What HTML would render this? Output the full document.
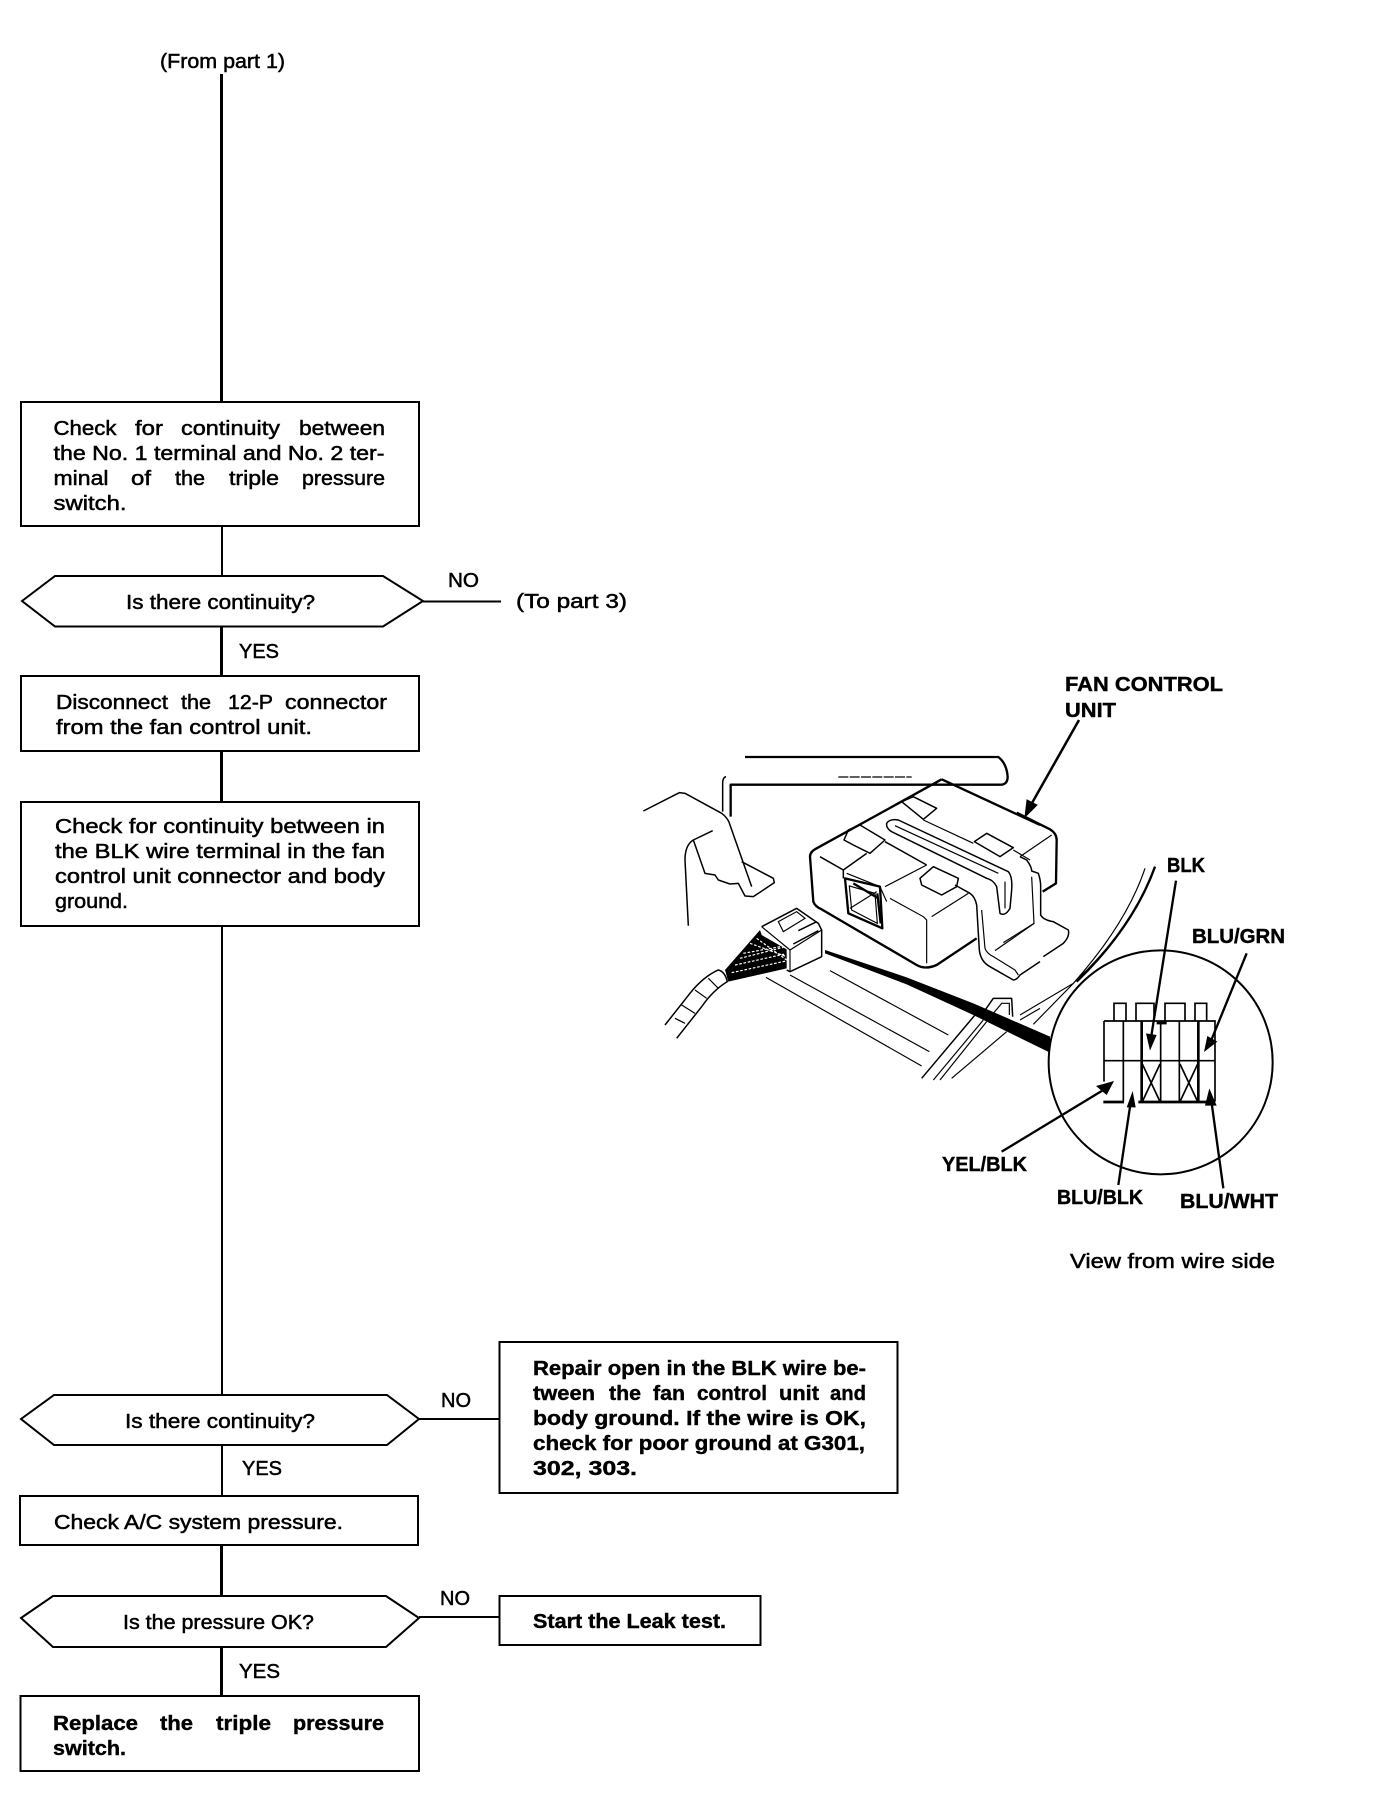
<!DOCTYPE html>
<html><head><meta charset="utf-8"><title>Diagram</title>
<style>
html,body{margin:0;padding:0;background:#fff;width:1376px;height:1804px;overflow:hidden}
svg{display:block}
text{font-family:"Liberation Sans",sans-serif;font-size:20px;fill:#000;stroke:#000;stroke-width:.5}
.b{font-weight:bold;stroke-width:.4}
.f{fill:none;stroke:#000;stroke-width:2}
.t{fill:none;stroke:#000;stroke-width:3}
.i{fill:none;stroke:#000;stroke-width:4.5;stroke-linejoin:round}
.h{fill:none;stroke:#000;stroke-width:7;stroke-linejoin:round}
.n{fill:none;stroke:#000;stroke-width:3.5}
</style></head><body>
<svg width="1376" height="1804" viewBox="0 0 1376 1804" xmlns="http://www.w3.org/2000/svg">
<rect width="1376" height="1804" fill="#fff"/>

<!-- flow connectors -->
<path class="t" d="M221.500 74V402"/>
<path class="f" d="M222 526V577"/>
<path class="t" d="M221.500 626V677"/>
<path class="t" d="M221.500 751V803"/>
<path class="f" d="M222 926V1396"/>
<path class="f" d="M222 1445V1496"/>
<path class="t" d="M221.500 1545V1596"/>
<path class="t" d="M221.500 1647V1696"/>
<path class="f" d="M423 601.500H501"/>
<path class="f" d="M419 1419H499"/>
<path class="f" d="M419 1617H499"/>

<!-- boxes -->
<rect class="f" x="21" y="402" width="398" height="124"/>
<rect class="f" x="21" y="676" width="398" height="75"/>
<rect class="f" x="21" y="802" width="398" height="124"/>
<rect class="f" x="20" y="1496" width="398" height="49"/>
<rect class="f" x="20.500" y="1696" width="398.500" height="75"/>
<rect class="f" x="499.500" y="1342" width="398" height="151"/>
<rect class="f" x="499.500" y="1596" width="261" height="49"/>

<!-- decisions -->
<path class="f" d="M22 601L55 576H383L423 601L383 626.500H55Z"/>
<path class="f" d="M21 1419L54 1395H387L419 1419L387 1445H54Z"/>
<path class="f" d="M21 1618L53 1596H386L419 1618L386 1647H53Z"/>

<!-- flow text -->
<text x="160" y="68" textLength="125" lengthAdjust="spacingAndGlyphs">(From part 1)</text>

<text x="53.500" y="435" textLength="63" lengthAdjust="spacingAndGlyphs">Check</text>
<text x="135" y="435" textLength="28" lengthAdjust="spacingAndGlyphs">for</text>
<text x="181" y="435" textLength="99" lengthAdjust="spacingAndGlyphs">continuity</text>
<text x="299" y="435" textLength="86" lengthAdjust="spacingAndGlyphs">between</text>
<text x="53.500" y="460" textLength="331" lengthAdjust="spacingAndGlyphs">the No. 1 terminal and No. 2 ter-</text>
<text x="53.500" y="485" textLength="55" lengthAdjust="spacingAndGlyphs">minal</text>
<text x="131" y="485" textLength="20" lengthAdjust="spacingAndGlyphs">of</text>
<text x="175" y="485" textLength="30" lengthAdjust="spacingAndGlyphs">the</text>
<text x="229" y="485" textLength="50" lengthAdjust="spacingAndGlyphs">triple</text>
<text x="302" y="485" textLength="83" lengthAdjust="spacingAndGlyphs">pressure</text>
<text x="53.500" y="510" textLength="73" lengthAdjust="spacingAndGlyphs">switch.</text>

<text x="126" y="609" textLength="189" lengthAdjust="spacingAndGlyphs">Is there continuity?</text>
<text x="448" y="587" textLength="31" lengthAdjust="spacingAndGlyphs">NO</text>
<text x="516" y="608" textLength="111" lengthAdjust="spacingAndGlyphs">(To part 3)</text>
<text x="239" y="658" textLength="40" lengthAdjust="spacingAndGlyphs">YES</text>

<text x="56" y="709" textLength="112" lengthAdjust="spacingAndGlyphs">Disconnect</text>
<text x="181" y="709" textLength="30" lengthAdjust="spacingAndGlyphs">the</text>
<text x="228" y="709" textLength="45" lengthAdjust="spacingAndGlyphs">12-P</text>
<text x="285" y="709" textLength="102" lengthAdjust="spacingAndGlyphs">connector</text>
<text x="56" y="734" textLength="256" lengthAdjust="spacingAndGlyphs">from the fan control unit.</text>

<text x="55" y="833" textLength="330" lengthAdjust="spacingAndGlyphs">Check for continuity between in</text>
<text x="55" y="858" textLength="330" lengthAdjust="spacingAndGlyphs">the BLK wire terminal in the fan</text>
<text x="55" y="883" textLength="330" lengthAdjust="spacingAndGlyphs">control unit connector and body</text>
<text x="55" y="908" textLength="73" lengthAdjust="spacingAndGlyphs">ground.</text>

<text x="125" y="1428" textLength="190" lengthAdjust="spacingAndGlyphs">Is there continuity?</text>
<text x="441" y="1407" textLength="30" lengthAdjust="spacingAndGlyphs">NO</text>
<text x="242" y="1475" textLength="40" lengthAdjust="spacingAndGlyphs">YES</text>
<text x="54" y="1529" textLength="289" lengthAdjust="spacingAndGlyphs">Check A/C system pressure.</text>
<text x="123" y="1629" textLength="191" lengthAdjust="spacingAndGlyphs">Is the pressure OK?</text>
<text x="440" y="1605" textLength="30" lengthAdjust="spacingAndGlyphs">NO</text>
<text x="239" y="1678" textLength="41" lengthAdjust="spacingAndGlyphs">YES</text>

<text class="b" x="533" y="1375" textLength="333" lengthAdjust="spacingAndGlyphs">Repair open in the BLK wire be-</text>
<text class="b" x="533" y="1400" textLength="62" lengthAdjust="spacingAndGlyphs">tween</text>
<text class="b" x="609" y="1400" textLength="32" lengthAdjust="spacingAndGlyphs">the</text>
<text class="b" x="653" y="1400" textLength="32" lengthAdjust="spacingAndGlyphs">fan</text>
<text class="b" x="697" y="1400" textLength="70" lengthAdjust="spacingAndGlyphs">control</text>
<text class="b" x="779" y="1400" textLength="40" lengthAdjust="spacingAndGlyphs">unit</text>
<text class="b" x="830" y="1400" textLength="36" lengthAdjust="spacingAndGlyphs">and</text>
<text class="b" x="533" y="1425" textLength="333" lengthAdjust="spacingAndGlyphs">body ground. If the wire is OK,</text>
<text class="b" x="533" y="1450" textLength="332" lengthAdjust="spacingAndGlyphs">check for poor ground at G301,</text>
<text class="b" x="533" y="1475" textLength="104" lengthAdjust="spacingAndGlyphs">302, 303.</text>
<text class="b" x="533" y="1628" textLength="193" lengthAdjust="spacingAndGlyphs">Start the Leak test.</text>

<text class="b" x="53" y="1730" textLength="85" lengthAdjust="spacingAndGlyphs">Replace</text>
<text class="b" x="160" y="1730" textLength="33" lengthAdjust="spacingAndGlyphs">the</text>
<text class="b" x="216" y="1730" textLength="55" lengthAdjust="spacingAndGlyphs">triple</text>
<text class="b" x="293" y="1730" textLength="91" lengthAdjust="spacingAndGlyphs">pressure</text>
<text class="b" x="53" y="1755" textLength="73" lengthAdjust="spacingAndGlyphs">switch.</text>

<!-- illustration labels -->
<text class="b" x="1065" y="691" textLength="158" lengthAdjust="spacingAndGlyphs">FAN CONTROL</text>
<text class="b" x="1065" y="717" textLength="51" lengthAdjust="spacingAndGlyphs">UNIT</text>
<text class="b" x="1167" y="872" textLength="38" lengthAdjust="spacingAndGlyphs">BLK</text>
<text class="b" x="1192" y="943" textLength="93" lengthAdjust="spacingAndGlyphs">BLU/GRN</text>
<text class="b" x="942" y="1171" textLength="85" lengthAdjust="spacingAndGlyphs">YEL/BLK</text>
<text class="b" x="1057" y="1204" textLength="86" lengthAdjust="spacingAndGlyphs">BLU/BLK</text>
<text class="b" x="1180" y="1208" textLength="98" lengthAdjust="spacingAndGlyphs">BLU/WHT</text>
<text x="1070" y="1268" textLength="205" lengthAdjust="spacingAndGlyphs">View from wire side</text>

<!-- illustration, traced in crop 2 coordinates -->
<g transform="translate(640,660) scale(.33333)">
<path class="h" d="M315 291H1075Q1100 310 1103 350Q1103 372 1085 374H272V470"/>
<path class="i" d="M258 350Q248 352 248 370V455"/>
<path class="n" stroke-dasharray="30 4" d="M595 351H815"/>
<path class="i" d="M10 453L118 398L135 400L245 460Q265 475 270 495L335 680"/>
<path class="i" d="M218 512L160 540Q135 555 135 600L145 797"/>
<path class="i" d="M160 540L195 640L225 645L235 660L270 672L295 670L315 708L340 710L403 668L400 655L305 605"/>
<!-- body -->
<path class="h" d="M905 358L1200 495M905 358L775 430L530 565Q510 575 510 590L520 725Q525 740 545 748L830 915Q855 930 890 915L1010 835"/>
<path class="i" d="M785 425L820 410L890 445L850 478Z"/>
<path class="i" d="M740 490Q750 475 775 480L1105 635Q1118 650 1115 690L1110 745Q1095 770 1080 760L1070 680Q1060 660 1040 655L755 515Q738 505 740 490Z"/>
<path class="n" d="M765 497L1075 640M1095 665L1095 745"/>
<path class="i" d="M1003 545L1040 520L1120 563L1080 590Z"/>
<path class="n" d="M850 480L1000 550M1120 570L1170 600"/>
<path class="i" d="M625 510L660 495L735 540L690 580L640 555L612 540Z"/>
<path class="i" d="M735 545L860 615M540 590L610 630L680 580M610 630V655"/>
<path class="h" d="M615 655L720 680L727 805L625 760Z"/>
<path class="n" d="M628 678L705 700L712 790L635 750ZM630 745L710 695"/>
<path class="h" d="M640 670L715 715M712 700L722 790"/>
<path class="n" d="M620 640L720 680L740 725M735 680L860 615"/>
<path class="n" d="M750 715L850 770L860 780V910M875 770L985 700"/>
<path class="i" d="M840 655L880 620L955 655L950 680L905 705L845 675Z"/>
<path class="i" d="M945 675L990 700Q1005 710 1010 735L1018 870Q1022 905 1050 920L1120 960Q1130 960 1140 945L1200 905"/>
<path class="n" d="M1025 750L1035 865Q1040 880 1060 890L1125 930L1135 945"/>
<path class="n" d="M1065 872L1183 790"/>
<!-- plug -->
<path class="i" d="M365 800L470 745L535 790L545 810L545 890L450 935L440 930"/>
<path class="n" d="M450 870V935M365 800L450 870L545 810M415 785L470 755L495 775L430 815Z"/>
<path class="i" d="M475 812L530 785M460 852L535 812"/>
<!-- wires -->
<path d="M360 810L255 930L265 965L440 925L440 868L365 825Z" fill="#000"/>
<path d="M300 895L430 862M285 915L435 882M275 938L438 903M330 850L440 890M350 835L440 900M310 880L420 860" stroke="#fff" stroke-width="3.500" fill="none" stroke-dasharray="8 5"/>
<!-- harness -->
<path class="i" d="M75 1095L150 1000Q190 950 235 930Q255 935 262 965Q220 990 185 1040L110 1135"/>
<path class="n" d="M205 955L235 985M165 990L200 1015M125 1035L165 1060M105 1075L135 1090"/>
<!-- wedge -->
<path d="M555 870L800 952L1000 1030L1230 1130V1178L1000 1065L800 973L555 880Z" fill="#000"/>
<path class="n" d="M570 932L925 1125M378 952L845 1218M450 945L868 1175"/>
<!-- clip & curves -->
<path class="i" d="M1025 1065L1060 1015H1115L1118 1070"/>
<path class="n" d="M1060 1060L1085 1030H1108V1065"/>
<path class="i" d="M845 1255L1005 1065"/>
<path class="n" d="M880 1260L1030 1080M900 1260L1040 1085M935 1255L1100 1115M1140 1080L1200 1045"/>
</g>

<!-- right part of the unit, crop 5 coordinates -->
<g transform="translate(830,760) scale(.33333)">
<path class="h" d="M560 158L660 208Q680 220 680 240L678 370L638 395"/>
<path class="n" d="M570 290L665 225"/>
<path class="i" d="M570 290L590 300Q605 320 605 333L625 340Q632 360 632 380L632 465Q640 480 670 485L715 510Q720 530 700 550L640 590"/>
<path class="n" d="M605 350L612 490L520 548"/>
</g>

<!-- arrows and inset, crop 3 coordinates -->
<g transform="translate(930,840) scale(.33333)">
<circle cx="692" cy="667" r="336" fill="none" stroke="#000" stroke-width="6"/>
<path class="n" d="M645 85Q590 250 430 430L270 525M675 80Q610 260 440 420L310 553"/>
<path class="h" d="M675 80Q610 260 440 425"/>
<!-- connector -->
<path fill="none" stroke="#000" stroke-width="5" d="M522 543H855V785M522 662H855M522 543V725M580 543V785M692 543V785M748 543V785"/>
<path fill="none" stroke="#000" stroke-width="8" d="M635 543V785M805 543V785M520 786H582M625 786H830M680 549H710"/>
<path fill="none" stroke="#000" stroke-width="5" d="M637 672L690 785M690 672L637 785M750 672L803 785M803 672L750 785"/>
<path fill="none" stroke="#000" stroke-width="5" d="M552 543V490H588V543M618 543V490H672V543M705 543V490H765V543M795 543V490H830V543"/>
<!-- pointers -->
<g fill="#000" stroke="none">
<path d="M648 580L680 585L660 632Z"/>
<path d="M832 588L862 605L822 636Z"/>
<path d="M498 738L530 765L552 723Z"/>
<path d="M590 802L617 802L608 753Z"/>
<path d="M825 797L860 797L838 745Z"/>
</g>
<path class="h" d="M738 122L662 600M950 340L840 610M215 935L520 750M565 1035L603 780M880 1045L843 775"/>
</g>

<!-- fan control unit pointer -->
<path d="M1079 720L1032 803" fill="none" stroke="#000" stroke-width="2.500"/>
<path d="M1027 800L1037 805L1025 817Z" fill="#000" stroke="#000" stroke-width="1"/>
</svg>
</body></html>
